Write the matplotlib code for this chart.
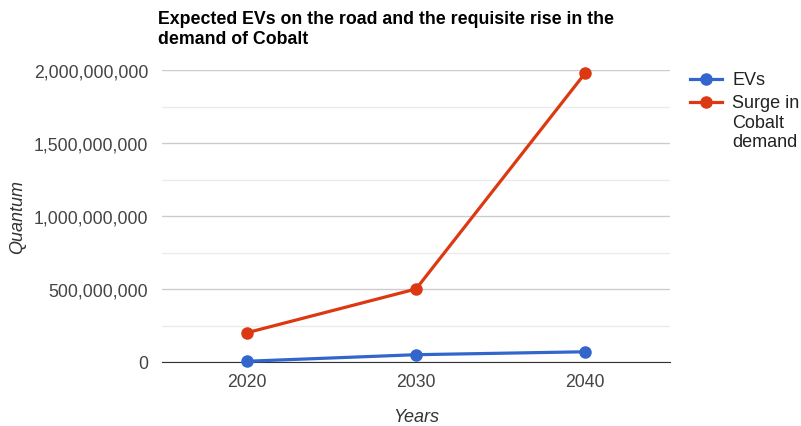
import matplotlib.pyplot as plt
from matplotlib.lines import Line2D
from matplotlib.ticker import FuncFormatter, MultipleLocator

plt.rcParams['font.family'] = ['Liberation Sans', 'DejaVu Sans']

years = [2020, 2030, 2040]
evs = [5000000, 50000000, 70000000]
cobalt = [200000000, 500000000, 1980000000]
series_names = ['EVs', 'Surge in\nCobalt\ndemand']
blue = '#3366cc'
red = '#dc3912'

fig = plt.figure(figsize=(8.01, 4.27), dpi=100)
ax = fig.add_axes([162 / 801, 1 - 363 / 427, 508 / 801, 292 / 427])

ax.plot(years, cobalt, color=red, lw=2.3, marker='o', ms=8, zorder=3, clip_on=False)
ax.plot(years, evs, color=blue, lw=2.3, marker='o', ms=8, zorder=4, clip_on=False)

ax.set_xlim(2015, 2045)
ax.set_ylim(0, 2000000000)
ax.set_xticks(years)
ax.yaxis.set_major_locator(MultipleLocator(500000000))
ax.yaxis.set_minor_locator(MultipleLocator(250000000))
ax.yaxis.set_major_formatter(FuncFormatter(lambda v, p: f'{int(v):,}'))
ax.grid(axis='y', which='major', color='#cccccc', lw=1)
ax.grid(axis='y', which='minor', color='#ebebeb', lw=1)
ax.set_axisbelow(True)
for s in ['top', 'right', 'left']:
    ax.spines[s].set_visible(False)
ax.spines['bottom'].set_color('#333333')
ax.tick_params(which='both', length=0)
ax.tick_params(axis='y', labelsize=12.7, labelcolor='#444444', pad=10)
ax.tick_params(axis='x', labelsize=12.7, labelcolor='#444444', pad=8)

ax.set_xlabel('Years', fontsize=13, style='italic', color='#333333', labelpad=13)
ax.set_ylabel('Quantum', fontsize=13, style='italic', color='#333333')
ax.yaxis.set_label_coords(-0.268, 0.5)

fig.text(158 / 801, 1 - 11 / 427, 'Expected EVs on the road and the requisite rise in the\ndemand of Cobalt',
         fontsize=12.8, fontweight='bold', color='#000000', va='top', ha='left', linespacing=1.25)

# legend drawn by hand so the key sits on the first text line
for i, (name, c) in enumerate(zip(series_names, [blue, red])):
    yy = 1 - (80 + 23 * i) / 427
    fig.add_artist(Line2D([690 / 801, 722 / 801], [yy, yy], transform=fig.transFigure,
                          color=c, lw=2.3))
    fig.add_artist(Line2D([706 / 801], [yy], transform=fig.transFigure,
                          color=c, marker='o', ms=8))
    fig.text(732 / 801, yy + 8 / 427, name, fontsize=13, color='#222222', va='top',
             ha='left', linespacing=1.2)

fig.savefig('out.png', dpi=100)
